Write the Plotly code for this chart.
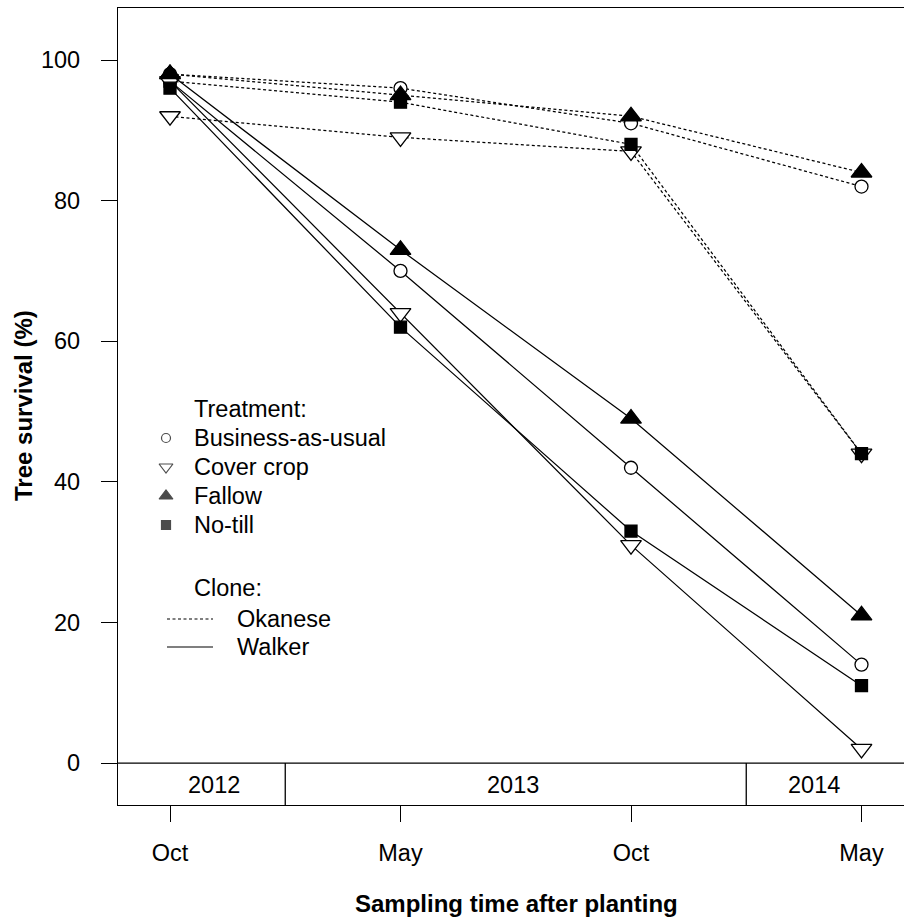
import plotly.graph_objects as go

# ---------------- data ----------------
sample_x = [1, 2, 3, 4]
time_labels = ["Oct", "May", "Oct", "May"]
year_labels = ["2012", "2013", "2014"]
year_label_x = [1.193, 2.49, 3.794]
year_breaks = [1.5, 3.5]

treatments = ["Business-as-usual", "Cover crop", "Fallow", "No-till"]
clones = ["Okanese", "Walker"]

okanese_bau = [98, 96, 91, 82]
okanese_cover = [92, 89, 87, 44]
okanese_fallow = [98, 95, 92, 84]
okanese_notill = [97, 94, 88, 44]

walker_bau = [97, 70, 42, 14]
walker_cover = [97, 64, 31, 2]
walker_fallow = [98, 73, 49, 21]
walker_notill = [96, 62, 33, 11]

y_ticks = [0, 20, 40, 60, 80, 100]

# ---------------- styling ----------------
W, H = 904, 920
PL, PR, PT, PB = 118, 904, 8, 805          # plot area in pixels
XR = [0.7744, 4.1844]
YR = [-5.97, 107.4]
FONT = "Liberation Sans, Arial, sans-serif"
FS = 23.5
FSB = 24

marker_style = {
    "Business-as-usual": ("circle", "white", 13),
    "Cover crop": ("triangle-down", "white", 18),
    "Fallow": ("triangle-up", "black", 18),
    "No-till": ("square", "black", 12),
}
legend_marker = {
    "Business-as-usual": ("circle", "white", 9),
    "Cover crop": ("triangle-down", "white", 12),
    "Fallow": ("triangle-up", "black", 12),
    "No-till": ("square", "black", 9),
}
clone_dash = {"Okanese": "3px,2.5px", "Walker": "solid"}

fig = go.Figure()

series = {
    "Okanese": [okanese_bau, okanese_cover, okanese_fallow, okanese_notill],
    "Walker": [walker_bau, walker_cover, walker_fallow, walker_notill],
}
for clone in clones:
    for trt, vals in zip(treatments, series[clone]):
        sym, fill, size = marker_style[trt]
        fig.add_trace(go.Scatter(
            x=sample_x, y=vals, mode="lines+markers",
            line=dict(color="black", width=1.25, dash=clone_dash[clone]),
            marker=dict(symbol=sym, size=size, color=fill,
                        line=dict(color="black", width=1.3)),
            showlegend=False, cliponaxis=False, hoverinfo="x+y",
        ))

# ---------------- custom legend (pixel overlay axes) ----------------
leg_sym_x = 166
leg_text_x = 192
leg_title_y = 409
leg_item_y = [438, 467, 496, 525]
clone_title_y = 588
clone_item_y = [619, 647]

fig.add_trace(go.Scatter(
    x=[leg_sym_x] * len(treatments), y=leg_item_y, mode="markers",
    marker=dict(symbol=[legend_marker[t][0] for t in treatments],
                size=[legend_marker[t][2] for t in treatments],
                color=[legend_marker[t][1] for t in treatments],
                line=dict(color="black", width=1.2)),
    xaxis="x2", yaxis="y2", showlegend=False, hoverinfo="skip",
))

annotations = []
def txt(x, y, s, ref=("x2", "y2"), xanchor="left", size=FS, bold=False, angle=0):
    annotations.append(dict(
        x=x, y=y, xref=ref[0], yref=ref[1], text=(f"<b>{s}</b>" if bold else s),
        showarrow=False, xanchor=xanchor, yanchor="middle", textangle=angle,
        font=dict(family=FONT, size=size, color="black"),
    ))

txt(leg_text_x, leg_title_y, "Treatment:")
for t, y in zip(treatments, leg_item_y):
    txt(leg_text_x, y, t)
txt(leg_text_x, clone_title_y, "Clone:")
for c, y in zip(clones, clone_item_y):
    txt(235, y, c)

shapes = []
for c, y in zip(clones, clone_item_y):
    shapes.append(dict(type="line", xref="x2", yref="y2", x0=167, x1=213, y0=y, y1=y,
                       line=dict(color="black", width=1.2, dash=clone_dash[c])))

# year band
shapes.append(dict(type="line", xref="paper", yref="y", x0=0, x1=1, y0=0, y1=0,
                   line=dict(color="black", width=1.3)))
for xb in year_breaks:
    shapes.append(dict(type="line", xref="x", yref="y", x0=xb, x1=xb, y0=YR[0], y1=0,
                       line=dict(color="black", width=1.3)))
for yl, xl in zip(year_labels, year_label_x):
    txt(xl, -3.1, yl, ref=("x", "y"), xanchor="center")

# axis titles
def px2paper_x(px):
    return (px - PL) / (PR - PL)
def px2paper_y(py):
    return (PB - py) / (PB - PT)

txt(px2paper_x(516), px2paper_y(903), "Sampling time after planting",
    ref=("paper", "paper"), xanchor="center", size=FSB, bold=True)
txt(px2paper_x(23), px2paper_y(406), "Tree survival (%)",
    ref=("paper", "paper"), xanchor="center", size=FSB, bold=True, angle=-90)

fig.update_layout(
    width=W, height=H,
    margin=dict(l=PL, r=W - PR, t=PT, b=H - PB),
    plot_bgcolor="white", paper_bgcolor="white",
    font=dict(family=FONT, size=FS, color="black"),
    xaxis=dict(range=XR, tickvals=sample_x, ticktext=time_labels,
               ticks="outside", ticklen=16, tickwidth=1.3, tickcolor="black",
               showline=True, linecolor="black", linewidth=1.3, mirror=True,
               showgrid=False, zeroline=False, ticklabelstandoff=11,
               tickfont=dict(family=FONT, size=FS, color="black")),
    yaxis=dict(range=YR, tickvals=y_ticks,
               ticks="outside", ticklen=16, tickwidth=1.3, tickcolor="black",
               showline=True, linecolor="black", linewidth=1.3, mirror=False,
               showgrid=False, zeroline=False, ticklabelstandoff=16,
               tickfont=dict(family=FONT, size=FS, color="black")),
    xaxis2=dict(overlaying="x", range=[PL, PR], visible=False),
    yaxis2=dict(overlaying="y", range=[PB, PT], visible=False),
    shapes=shapes, annotations=annotations, showlegend=False,
)

fig.write_html("out.html", config={"displayModeBar": False},
               post_script="document.body.style.margin='0';document.body.style.overflow='hidden';")
